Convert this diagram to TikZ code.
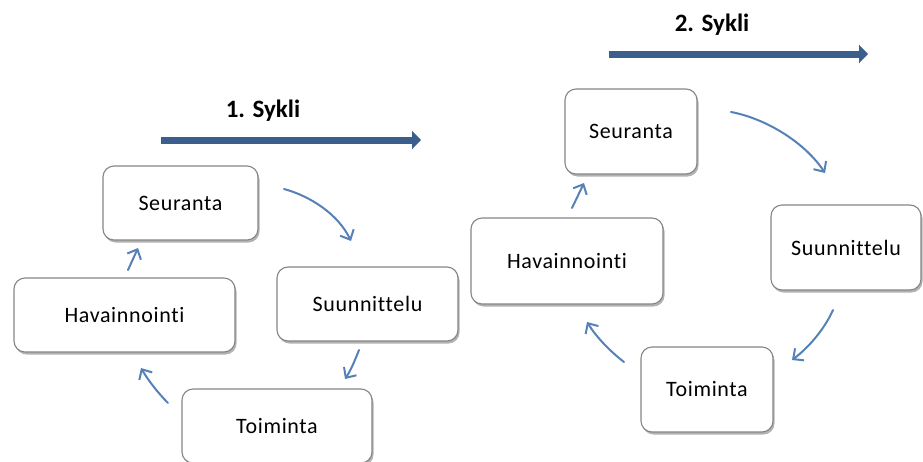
\documentclass[tikz,border=0pt]{standalone}
\usepackage{fontspec}
\setmainfont{Carlito}[Ligatures={NoCommon,NoRequired,NoContextual}]
\newfontfamily\boxfont{Carlito}[Ligatures={NoCommon,NoRequired,NoContextual},LetterSpace=3]
\usetikzlibrary{arrows.meta,shadows}
\definecolor{bigarrow}{HTML}{3C5E8D}
\definecolor{cyc}{HTML}{5581B6}
\definecolor{boxline}{HTML}{858585}
\tikzset{
  stepbox/.style={draw=boxline, line width=1.1pt, fill=white, rounded corners=11pt,
    drop shadow={shadow xshift=1.5pt, shadow yshift=-2.5pt, opacity=0.3, fill=black},
    font=\boxfont\fontsize{22}{26}\selectfont, inner sep=0pt},
  cycarrow/.style={draw=cyc, line width=2pt, line cap=round,
    -{Straight Barb[length=8pt,width=15pt,line width=2pt]}},
  bigarr/.style={draw=bigarrow, line width=7pt, -{Triangle[length=9pt,width=18pt]}},
  title/.style={font=\bfseries\fontsize{25}{30}\selectfont, inner sep=0pt}
}
\begin{document}
\begin{tikzpicture}[x=1pt,y=-1pt]
\useasboundingbox (0,0) rectangle (923,461);
% ---------- cycle 1 ----------
\node[title] (t1) at (263,111) {1. Sykli};
\coordinate (a1s) at (161,140);
\coordinate (a1e) at (421,140);
\draw[bigarr] (a1s) -- (a1e);
\node[stepbox, minimum width=155pt, minimum height=74pt] (s1) at (180.5,203) {Seuranta};
\node[stepbox, minimum width=221pt, minimum height=74pt] (h1) at (124.5,315) {Havainnointi};
\node[stepbox, minimum width=181pt, minimum height=74pt] (su1) at (367.5,304) {Suunnittelu};
\node[stepbox, minimum width=190pt, minimum height=74pt] (to1) at (277,426) {Toiminta};
\coordinate (c1a) at (284,189); \coordinate (c1b) at (351,241);
\coordinate (c2a) at (359,350); \coordinate (c2b) at (345,379);
\coordinate (c3a) at (168,403); \coordinate (c3b) at (141,368);
\coordinate (c4a) at (128,270); \coordinate (c4b) at (138,248);
\draw[cycarrow] (c1a) .. controls (310,196) and (338,214) .. (c1b);
\draw[cycarrow] (c2a) .. controls (355,360) and (351,370) .. (c2b);
\draw[cycarrow] (c3a) .. controls (158,393) and (148,380) .. (c3b);
\draw[cycarrow] (c4a) -- (c4b);
% ---------- cycle 2 ----------
\node[title] (t2) at (712,25) {2. Sykli};
\coordinate (a2s) at (609,54);
\coordinate (a2e) at (868,54);
\draw[bigarr] (a2s) -- (a2e);
\node[stepbox, minimum width=132pt, minimum height=85pt] (s2) at (631,131.5) {Seuranta};
\node[stepbox, minimum width=192pt, minimum height=86pt] (h2) at (567,261) {Havainnointi};
\node[stepbox, minimum width=150pt, minimum height=85pt] (su2) at (846,247.5) {Suunnittelu};
\node[stepbox, minimum width=132pt, minimum height=85pt] (to2) at (707,389.5) {Toiminta};
\coordinate (d1a) at (731,112); \coordinate (d1b) at (825,173);
\coordinate (d2a) at (833,310); \coordinate (d2b) at (792,360);
\coordinate (d3a) at (624,362); \coordinate (d3b) at (587,322);
\coordinate (d4a) at (572,208); \coordinate (d4b) at (584,183);
\draw[cycarrow] (d1a) .. controls (768,119) and (806,144) .. (d1b);
\draw[cycarrow] (d2a) .. controls (824,330) and (808,348) .. (d2b);
\draw[cycarrow] (d3a) .. controls (611,352) and (597,338) .. (d3b);
\draw[cycarrow] (d4a) -- (d4b);
\end{tikzpicture}
\end{document}
